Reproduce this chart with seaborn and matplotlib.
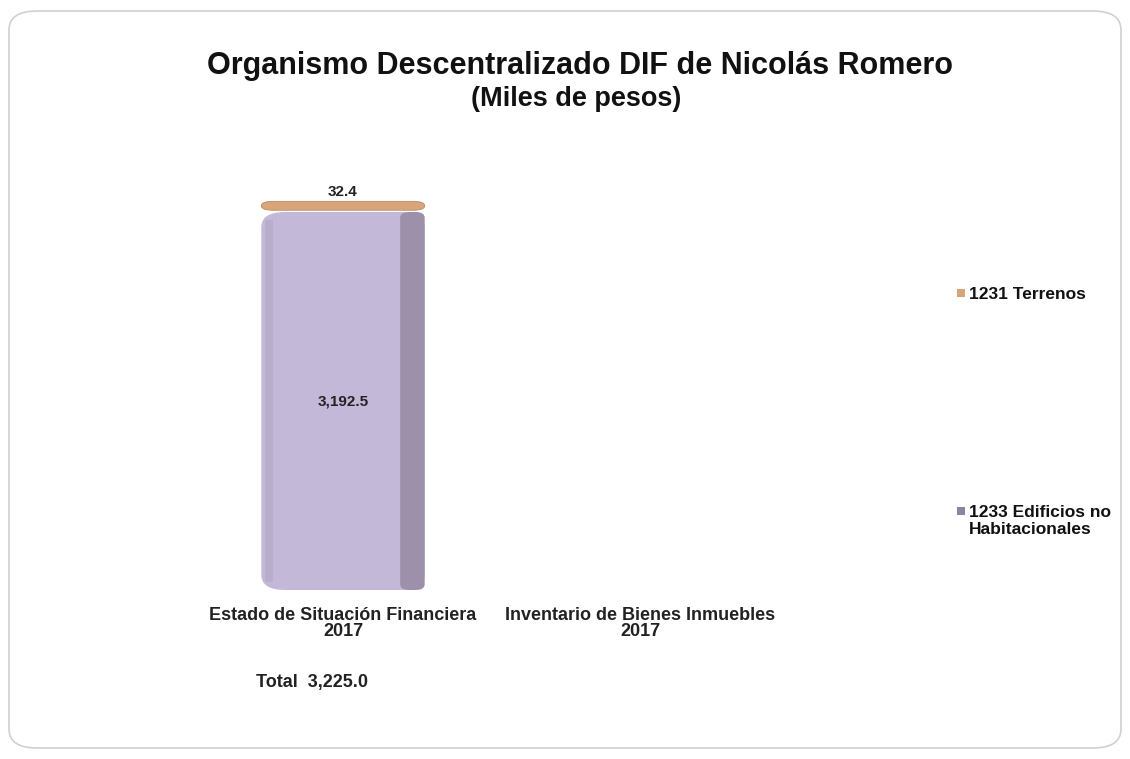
import matplotlib
matplotlib.use('Agg')
import matplotlib.pyplot as plt
from matplotlib.patches import FancyBboxPatch, Rectangle
import numpy as np
import pandas as pd
import seaborn as sns

# data
categories = ['Estado de Situación Financiera\n2017', 'Inventario de Bienes Inmuebles\n2017']
edificios = [3192.5, 0.0]
terrenos = [32.4, 0.0]
series_names = ['1231 Terrenos', '1233 Edificios no\nHabitacionales']
total_label = 'Total  3,225.0'

sns.set_style('white')
plt.rcParams['font.family'] = ['Liberation Sans Narrow', 'Liberation Sans', 'DejaVu Sans']

W, H = 1130, 759
fig = plt.figure(figsize=(W / 100, H / 100), dpi=100)

# rounded frame around the whole chart
frame = FancyBboxPatch((9 / W, 11 / H), (W - 18) / W, (H - 22) / H,
                       boxstyle='round,pad=0,rounding_size=0.025',
                       transform=fig.transFigure, fc='white', ec='#d0d0d0', lw=1.2,
                       zorder=-5)
fig.patches.append(frame)

# axes placed so categories land where the reference has them
ax = fig.add_axes([194.5 / W, 1 - 590 / H, 594 / W, (590 - 155) / H])
ax.set_facecolor('none')

df = pd.DataFrame({'cat': categories, 'edif': edificios, 'terr': terrenos})
df['total'] = df['edif'] + df['terr']

sns.barplot(data=df, x='cat', y='total', color='#d9a47a', width=0.55,
            saturation=1, ax=ax, errorbar=None)
sns.barplot(data=df, x='cat', y='edif', color='#c4b8d8', width=0.55,
            saturation=1, ax=ax, errorbar=None)

ax.set_xlim(-0.5, 1.5)
ax.set_ylim(0, 3674)

# restyle bars as rounded 3D-ish blocks
n = len(categories)
bars = list(ax.patches)
top_bars = bars[:n]
low_bars = bars[n:]
for b in bars:
    b.set_visible(False)
for b in low_bars:
    x, y, w, h = b.get_x(), b.get_y(), b.get_width(), b.get_height()
    if h <= 0:
        continue
    ax.add_patch(FancyBboxPatch((x, y), w, h,
                                boxstyle='round,pad=0,rounding_size=0.08',
                                mutation_aspect=1600, fc='#c4b8d8', ec='none', zorder=3))
    ax.add_patch(FancyBboxPatch((x + w * 0.85, y), w * 0.15, h,
                                boxstyle='round,pad=0,rounding_size=0.03',
                                mutation_aspect=1600, fc='#9d90aa', ec='none', zorder=3.2))
    ax.add_patch(Rectangle((x + w * 0.02, y + h * 0.02), w * 0.05, h * 0.96,
                           fc='#b9adcc', ec='none', zorder=3.1))
for tb, lb in zip(top_bars, low_bars):
    x, w = tb.get_x(), tb.get_width()
    ytop = tb.get_y() + tb.get_height()
    ybot = lb.get_y() + lb.get_height()
    if tb.get_height() - lb.get_height() <= 0:
        continue
    ax.add_patch(FancyBboxPatch((x, ybot + 15), w, max(ytop - ybot, 75),
                                boxstyle='round,pad=0,rounding_size=0.04',
                                mutation_aspect=900, fc='#d9a47a', ec='#b98a60',
                                lw=0.6, zorder=3))

# value labels
for i in range(n):
    if edificios[i] > 0:
        ax.text(i, edificios[i] / 2, f'{edificios[i]:,.1f}', ha='center', va='center',
                fontsize=11, fontweight='bold', color='#222222', zorder=5)
    if terrenos[i] > 0:
        ax.text(i, df['total'][i] + 80, f'{terrenos[i]:,.1f}', ha='center', va='bottom',
                fontsize=11, fontweight='bold', color='#222222', zorder=5)

ax.set_xlabel('')
ax.set_ylabel('')
ax.set_yticks([])
ax.set_xticks(range(n))
ax.set_xticklabels(categories, fontsize=13, fontweight='bold', color='#222222',
                   linespacing=0.95)
ax.tick_params(axis='x', length=0, pad=12)
sns.despine(ax=ax, left=True, bottom=True)

fig.text(312 / W, 1 - 683 / H, total_label, ha='center', va='center',
         fontsize=13, fontweight='bold', color='#222222')

# titles
fig.text(580 / W, 1 - 66 / H, 'Organismo Descentralizado DIF de Nicolás Romero',
         ha='center', va='center', fontsize=22, fontweight='bold',
         family=['Liberation Sans', 'DejaVu Sans'], color='#111111')
fig.text(576 / W, 1 - 99 / H, '(Miles de pesos)', ha='center', va='center',
         fontsize=19.5, fontweight='bold', family=['Liberation Sans', 'DejaVu Sans'],
         color='#111111')

# legend on the right
leg_colors = ['#d9a47a', '#8f84a0']
leg_y = [293, 511]
for name, c, yy in zip(series_names, leg_colors, leg_y):
    fig.patches.append(Rectangle((957 / W, 1 - (yy + 4) / H), 8 / W, 8 / H,
                                 transform=fig.transFigure, fc=c, ec='none'))
    fig.text(969 / W, 1 - (yy - 6) / H, name, ha='left', va='top', fontsize=12.5,
             fontweight='bold', family=['Liberation Sans', 'DejaVu Sans'],
             color='#111111', linespacing=1.2)

plt.savefig('out.png', dpi=100)
plt.close()
